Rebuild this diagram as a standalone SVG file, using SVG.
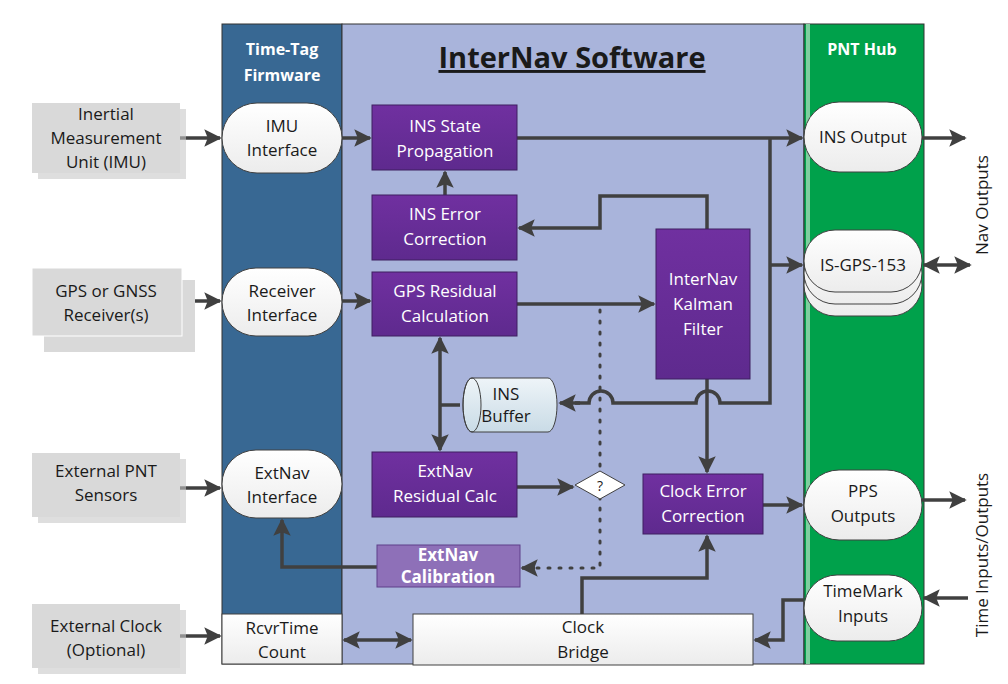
<svg xmlns="http://www.w3.org/2000/svg" width="1008" height="684" viewBox="0 0 1008 684">
<defs>
<marker id="a" viewBox="0 0 10 10" refX="9" refY="5" markerWidth="5" markerHeight="5" orient="auto-start-reverse"><path d="M0,0 L10,5 L0,10 L2,5 Z" fill="#404040"/></marker>
<linearGradient id="w" x1="0" y1="0" x2="0" y2="1"><stop offset="0" stop-color="#ffffff"/><stop offset="1" stop-color="#ececec"/></linearGradient>
<linearGradient id="p" x1="0" y1="0" x2="0" y2="1"><stop offset="0" stop-color="#7030a0"/><stop offset="1" stop-color="#5e2a8e"/></linearGradient>
<linearGradient id="cyl" x1="0" y1="0" x2="0" y2="1"><stop offset="0" stop-color="#eef4f8"/><stop offset="1" stop-color="#c9dbe6"/></linearGradient>
</defs>
<style>
text{font-family:"Open Sans","Liberation Sans",sans-serif;font-size:17px;text-anchor:middle;fill:#1a1a1a}
.pt{fill:#ffffff}
.grey{fill:#d9d9d9}
.sh{fill:#c8c8c8;opacity:.6}
.pur{fill:url(#p);stroke:#3f1f60;stroke-width:1}
.wn{fill:url(#w);stroke:#404040;stroke-width:1}
.c{fill:none;stroke:#404040;stroke-width:3.5}
.ar{marker-end:url(#a)}
.dot{fill:none;stroke:#404040;stroke-width:3;stroke-dasharray:2 9;stroke-linecap:round}
.hdr{fill:#fff;font-weight:bold;font-size:16px}
</style>
<rect x="0" y="0" width="1008" height="684" fill="#fff"/>
<g id="panels">
<rect x="222" y="24" width="120" height="640" fill="#386893" stroke="#333" stroke-width="1"/>
<rect x="342" y="24" width="462" height="640" fill="#a9b4db" stroke="#333" stroke-width="1"/>
<rect x="804" y="24" width="120" height="640" fill="#00a14b" stroke="#333" stroke-width="1"/>
<rect x="806" y="24" width="4" height="640" fill="#7fcf9f"/>
<text class="hdr" x="282" y="55">Time-Tag</text>
<text class="hdr" x="282" y="81">Firmware</text>
<text class="hdr" x="862" y="55">PNT Hub</text>
<text x="572" y="68" style="font-size:29px;font-weight:bold;text-decoration:underline">InterNav Software</text>
<text x="988" y="205" transform="rotate(-90 988 205)" style="font-size:17px">Nav Outputs</text>
<text x="988" y="555" transform="rotate(-90 988 555)" style="font-size:17px">Time Inputs/Outputs</text>
</g>
<g id="connectors">
<path class="c ar" d="M180,138 H220"/>
<path class="c ar" d="M342,138 H370"/>
<path class="c ar" d="M517,138 H802"/>
<path class="c" d="M770,138 V403 H720 A12,12 0 0 0 696,403 H613 A12,12 0 0 0 589,403 H575"/>
<path class="c ar" d="M580,403 H560"/>
<path class="c ar" d="M770,265 H802"/>
<path class="c ar" d="M445,195 V172"/>
<path class="c ar" d="M707,229 V196 H600 V228 H519"/>
<path class="c ar" d="M195,301 H220"/>
<path class="c ar" d="M342,301 H370"/>
<path class="c ar" d="M517,304 H654"/>
<path class="c ar" d="M440,394 V338" />
<path class="c ar" d="M440,394 V450"/>
<path class="c" d="M440,405 H460"/>
<path class="dot" d="M600,310 V568 H530"/>
<path class="c ar" d="M535,568 H522"/>
<path class="c ar" d="M517,487 H573"/>
<path class="c ar" d="M707,379 V472"/>
<path class="c ar" d="M763,505 H802"/>
<path class="c ar" d="M582,614 V578 H707 V536"/>
<path class="c ar" d="M377,567 H282 V520"/>
<path class="c ar" d="M180,488 H220"/>
<path class="c ar" d="M180,636 H220"/>
<path class="c ar" d="M378,640 H344"/>
<path class="c ar" d="M378,640 H411"/>
<path class="c ar" d="M804,600 H783 V640 H755"/>
<path class="c ar" d="M922,138 H965"/>
<path class="c ar" d="M946,265 H970"/>
<path class="c ar" d="M946,265 H924"/>
<path class="c ar" d="M922,500 H965"/>
<path class="c ar" d="M968,598 H924"/>
</g>
<g id="imu"><rect class="sh" x="38" y="109" width="148" height="70"/><rect class="grey" x="32" y="103" width="148" height="70"/><text x="106" y="120">Inertial</text><text x="106" y="144">Measurement</text><text x="106" y="168">Unit (IMU)</text></g>
<g id="gps"><rect class="grey" x="44" y="280" width="151" height="72"/><rect class="grey" x="32" y="268" width="150" height="68" stroke="#fff"/><text x="106" y="297">GPS or GNSS</text><text x="106" y="321">Receiver(s)</text></g>
<g id="extpnt"><rect class="sh" x="38" y="459" width="148" height="64"/><rect class="grey" x="32" y="453" width="148" height="64"/><text x="106" y="477">External PNT</text><text x="106" y="501">Sensors</text></g>
<g id="extclk"><rect class="sh" x="38" y="610" width="148" height="64"/><rect class="grey" x="32" y="604" width="148" height="64"/><text x="106" y="632">External Clock</text><text x="106" y="656">(Optional)</text></g>
<g id="imuif"><rect class="wn" x="222" y="103" width="120" height="70" rx="35"/><text x="282" y="132">IMU</text><text x="282" y="156">Interface</text></g>
<g id="rxif"><rect class="wn" x="222" y="268" width="120" height="68" rx="34"/><text x="282" y="297">Receiver</text><text x="282" y="321">Interface</text></g>
<g id="extif"><rect class="wn" x="222" y="450" width="120" height="68" rx="34"/><text x="282" y="479">ExtNav</text><text x="282" y="503">Interface</text></g>
<g id="rcvr"><rect class="wn" x="222" y="614" width="120" height="50"/><text x="282" y="634">RcvrTime</text><text x="282" y="658">Count</text></g>
<g id="insprop"><rect class="pur" x="372" y="105" width="145" height="65"/><text class="pt" x="445" y="132">INS State</text><text class="pt" x="445" y="157">Propagation</text></g>
<g id="inserr"><rect class="pur" x="372" y="195" width="145" height="65"/><text class="pt" x="445" y="220">INS Error</text><text class="pt" x="445" y="245">Correction</text></g>
<g id="gpsres"><rect class="pur" x="372" y="272" width="145" height="64"/><text class="pt" x="445" y="297">GPS Residual</text><text class="pt" x="445" y="322">Calculation</text></g>
<g id="extres"><rect class="pur" x="372" y="452" width="145" height="65"/><text class="pt" x="445" y="477">ExtNav</text><text class="pt" x="445" y="502">Residual Calc</text></g>
<g id="extcal"><rect x="377" y="545" width="143" height="42" fill="#8e70b8" stroke="#5e3f8a"/><text class="pt" x="448" y="561" style="font-weight:bold">ExtNav</text><text class="pt" x="448" y="583" style="font-weight:bold">Calibration</text></g>
<g id="kalman"><rect class="pur" x="656" y="229" width="94" height="150"/><text class="pt" x="703" y="285">InterNav</text><text class="pt" x="703" y="310">Kalman</text><text class="pt" x="703" y="335">Filter</text></g>
<g id="clkerr"><rect class="pur" x="643" y="474" width="120" height="60"/><text class="pt" x="703" y="497">Clock Error</text><text class="pt" x="703" y="522">Correction</text></g>
<g id="bridge"><rect class="wn" x="413" y="614" width="340" height="51"/><text x="583" y="633">Clock</text><text x="583" y="658">Bridge</text></g>
<g id="buffer"><path d="M472,378 H548 A9,27 0 0 1 548,432 H472 A9,27 0 0 1 472,378 Z" fill="url(#cyl)" stroke="#404040"/><ellipse cx="472" cy="405" rx="9" ry="27" fill="none" stroke="#404040"/><text x="506" y="400">INS</text><text x="506" y="422">Buffer</text></g>
<g id="decision"><path d="M600,471 L625,485 L600,499 L575,485 Z" fill="#fff" stroke="#404040"/><text x="600" y="491" style="font-size:14px">?</text></g>
<g id="insout"><rect class="wn" x="804" y="102" width="118" height="70" rx="35"/><text x="863" y="143">INS Output</text></g>
<g id="isgps"><rect class="wn" x="804" y="254" width="118" height="62" rx="31"/><rect class="wn" x="804" y="242" width="118" height="62" rx="31"/><rect class="wn" x="804" y="230" width="118" height="62" rx="31"/><text x="863" y="271">IS-GPS-153</text></g>
<g id="pps"><rect class="wn" x="804" y="470" width="118" height="70" rx="35"/><text x="863" y="497">PPS</text><text x="863" y="522">Outputs</text></g>
<g id="timemark"><rect class="wn" x="804" y="575" width="118" height="66" rx="33"/><text x="863" y="597">TimeMark</text><text x="863" y="622">Inputs</text></g>
</svg>
